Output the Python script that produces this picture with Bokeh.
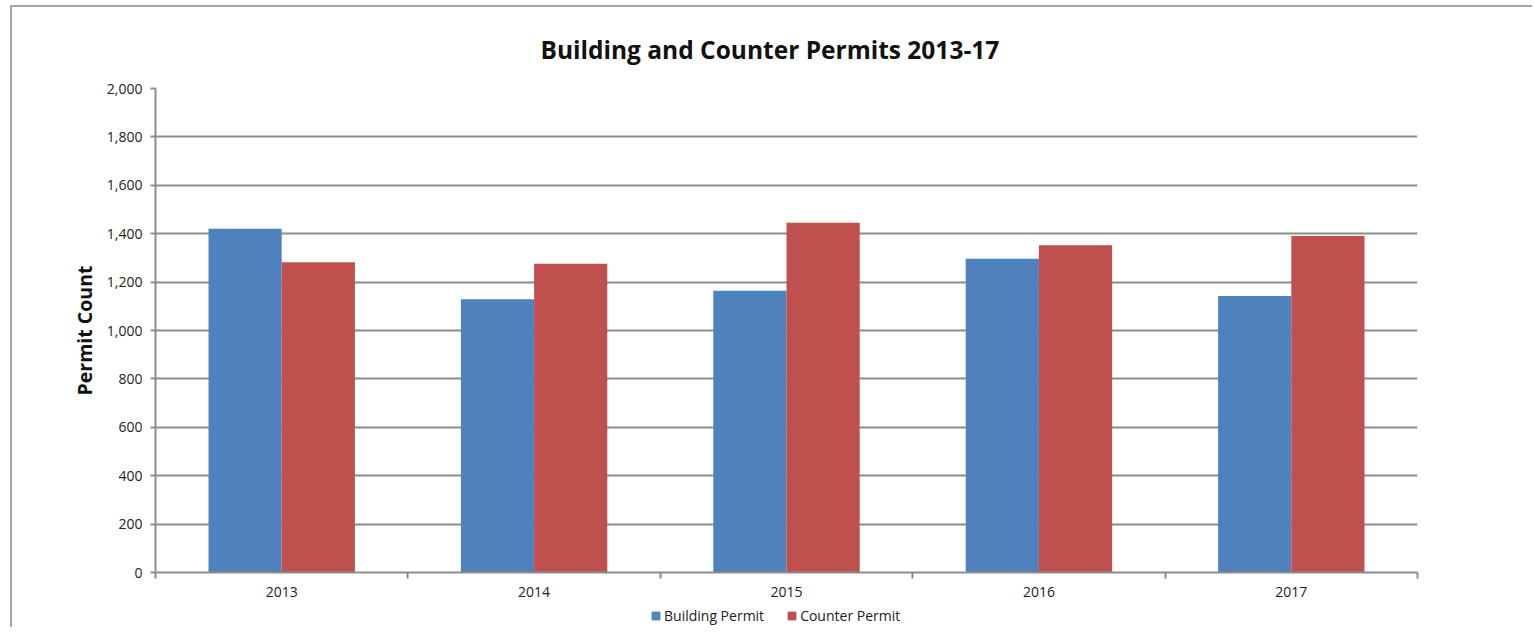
from bokeh.plotting import figure
from bokeh.layouts import column
from bokeh.models import ColumnDataSource, FixedTicker, Legend, LegendItem, Range1d, NumeralTickFormatter
from bokeh.embed import file_html
from bokeh.resources import INLINE

years = ["2013", "2014", "2015", "2016", "2017"]
building = [1420, 1129, 1164, 1296, 1143]
counter = [1282, 1276, 1445, 1352, 1390]
yticks = [0, 200, 400, 600, 800, 1000, 1200, 1400, 1600, 1800, 2000]
series_names = ["Building Permit", "Counter Permit"]
title_text = "Building and Counter Permits 2013-17"

FONT = "Open Sans"
BLUE = "#4F81BD"
RED = "#C0504D"
GRID = "#8c8c8c"

centers = [i + 0.5 for i in range(len(years))]
bw = 0.29
src = ColumnDataSource(dict(
    xb=[c - bw / 2 for c in centers],
    xc=[c + bw / 2 for c in centers],
    building=building,
    counter=counter,
    year=years,
))

p = figure(frame_width=1262, frame_height=484, output_backend="svg", toolbar_location=None,
           x_range=Range1d(0, len(years)), y_range=Range1d(0, 2000),
           min_border_left=143, min_border_right=115, min_border_top=80, min_border_bottom=0,
           title=title_text)
p.outline_line_color = None
p.background_fill_color = "white"
p.border_fill_color = "white"

p.title.text_font = FONT
p.title.text_font_size = "24.5px"
p.title.text_font_style = "bold"
p.title.text_color = "#111111"
p.title.align = "left"
p.title.offset = 385
p.title.standoff = 46

p.vbar(x="xb", top="building", width=bw, source=src, fill_color=BLUE, line_color=None)
p.vbar(x="xc", top="counter", width=bw, source=src, fill_color=RED, line_color=None)

# y axis
p.yaxis.ticker = FixedTicker(ticks=yticks)
p.yaxis.formatter = NumeralTickFormatter(format="0,0")
p.yaxis.axis_label = "Permit Count"
p.yaxis.axis_label_text_font = FONT
p.yaxis.axis_label_text_font_size = "19.5px"
p.yaxis.axis_label_text_font_style = "bold"
p.yaxis.axis_label_text_color = "#111111"
p.yaxis.axis_label_standoff = 6
p.yaxis.major_label_text_font = FONT
p.yaxis.major_label_text_font_size = "14px"
p.yaxis.major_label_text_color = "#222222"
p.yaxis.major_tick_out = 5
p.yaxis.major_tick_in = 0
p.yaxis.minor_tick_line_color = None
p.yaxis.axis_line_color = GRID
p.yaxis.axis_line_width = 2
p.yaxis.major_tick_line_color = GRID
p.yaxis.major_tick_line_width = 2
p.yaxis.major_label_standoff = 8

# x axis: labels at centers, ticks at boundaries
p.xaxis.ticker = FixedTicker(ticks=centers, minor_ticks=list(range(len(years) + 1)))
p.xaxis.major_label_overrides = {c: y for c, y in zip(centers, years)}
p.xaxis.axis_label = None
p.xaxis.major_tick_line_color = None
p.xaxis.major_tick_out = 0
p.xaxis.minor_tick_out = 6
p.xaxis.minor_tick_in = 0
p.xaxis.minor_tick_line_color = GRID
p.xaxis.minor_tick_line_width = 2
p.xaxis.axis_line_color = GRID
p.xaxis.axis_line_width = 2
p.xaxis.major_label_text_font = FONT
p.xaxis.major_label_text_font_size = "14px"
p.xaxis.major_label_text_color = "#222222"
p.xaxis.major_label_standoff = 8

p.xgrid.grid_line_color = None
p.ygrid.grid_line_color = GRID
p.ygrid.grid_line_width = 2
p.ygrid.grid_line_alpha = 1.0

# legend row in its own strip below the chart (its bars lie outside the strip's range)
lf = figure(frame_width=1262, frame_height=28, output_backend="svg", toolbar_location=None,
            x_range=Range1d(0, len(years)), y_range=Range1d(5000, 5001),
            min_border_left=143, min_border_right=115, min_border_top=0, min_border_bottom=0,
            x_axis_location=None, y_axis_location=None)
lf.outline_line_color = None
lf.grid.visible = False
lf.border_fill_color = "white"
lb = lf.vbar(x="xb", top="building", width=bw, source=src, fill_color=BLUE, line_color=None)
lr = lf.vbar(x="xc", top="counter", width=bw, source=src, fill_color=RED, line_color=None)
legend = Legend(items=[LegendItem(label=series_names[0], renderers=[lb]),
                       LegendItem(label=series_names[1], renderers=[lr])],
                orientation="horizontal", location=(495, 2))
legend.label_text_font = FONT
legend.label_text_font_size = "14px"
legend.label_text_color = "#222222"
legend.glyph_width = 11
legend.glyph_height = 11
legend.label_height = 14
legend.label_standoff = 3
legend.spacing = 22
legend.padding = 2
legend.margin = 0
legend.border_line_color = None
legend.background_fill_alpha = 0
lf.add_layout(legend, "center")

layout = column(p, lf, spacing=0)
layout.styles = {"border-left": "2px solid #a6a6a6", "border-top": "2px solid #a6a6a6",
                 "margin-left": "10px", "margin-top": "5px", "width": "1522px"}

open("out.html", "w").write(file_html(layout, INLINE))
